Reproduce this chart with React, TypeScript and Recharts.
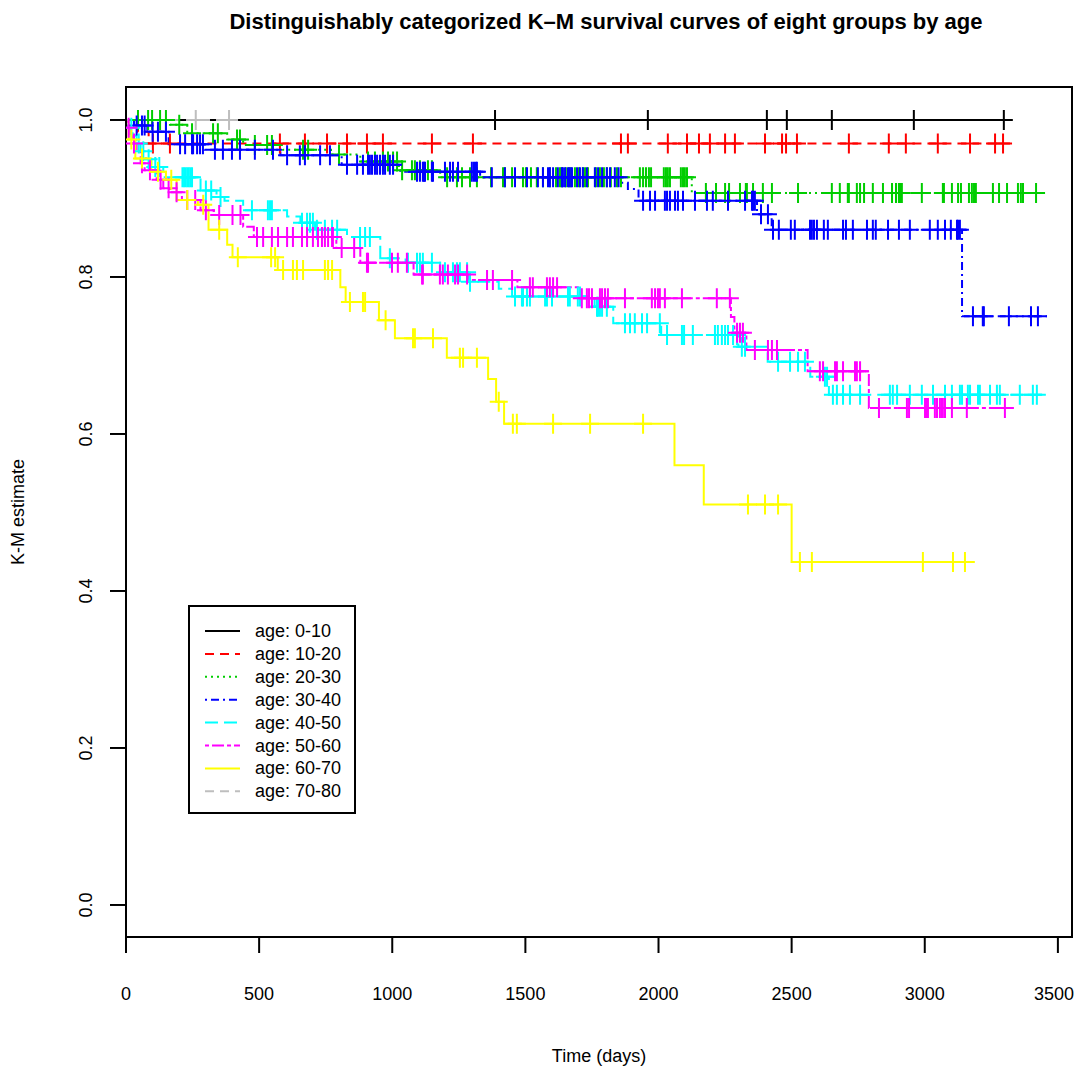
import React from 'react';
import {
  ComposedChart,
  Label,
  Legend,
  Line,
  ReferenceArea,
  Scatter,
  XAxis,
  YAxis,
} from 'recharts';

const FONT = '"Liberation Sans", Arial, Helvetica, sans-serif';

// axis ticks
const xTicks = [0, 500, 1000, 1500, 2000, 2500, 3000, 3500];
const yTicks = [0, 0.2, 0.4, 0.6, 0.8, 1.0];

// groups
const groupNames = [
  'age: 0-10',
  'age: 10-20',
  'age: 20-30',
  'age: 30-40',
  'age: 40-50',
  'age: 50-60',
  'age: 60-70',
  'age: 70-80',
];
const groupColors = ['#000000', '#FF0000', '#00CD00', '#0000FF', '#00FFFF', '#FF00FF', '#FFFF00', '#BEBEBE'];
const groupDashes = ['', '9 6', '2 4', '2 4 8 4', '13 6', '4 3 12 3', '', '9 6'];

// K-M steps: [time (days), survival], last time of follow-up, censoring times
const steps0 = [[0, 1]];
const end0 = 3320;
const censor0 = [1386, 1960, 2407, 2482, 2651, 2959, 3297];

const steps1 = [[0, 1], [45, 0.985], [85, 0.97]];
const end1 = 3320;
const censor1 = [101, 165, 578, 672, 755, 830, 905, 965, 1149, 1303, 1859, 1885, 2035, 2107, 2152, 2193, 2250, 2287, 2400, 2464, 2479, 2520, 2715, 2865, 2929, 3049, 3170, 3264, 3294];

const steps2 = [[0, 1], [165, 0.994], [230, 0.983], [380, 0.975], [440, 0.968], [590, 0.962], [770, 0.956], [880, 0.947], [1025, 0.936], [1180, 0.927], [2125, 0.907]];
const end2 = 3460;
const censor2 = [45, 83, 98, 128, 150, 200, 248, 327, 345, 417, 428, 484, 530, 548, 665, 684, 800, 909, 935, 965, 984, 1003, 1018, 1037, 1074, 1085, 1104, 1134, 1149, 1206, 1243, 1262, 1292, 1318, 1371, 1416, 1423, 1450, 1491, 1502, 1521, 1543, 1566, 1592, 1615, 1630, 1637, 1652, 1664, 1671, 1686, 1701, 1716, 1724, 1735, 1765, 1780, 1795, 1806, 1821, 1844, 1859, 1930, 1942, 1953, 1964, 1972, 2020, 2028, 2035, 2043, 2084, 2092, 2099, 2107, 2178, 2216, 2250, 2265, 2306, 2328, 2332, 2355, 2392, 2426, 2524, 2651, 2681, 2711, 2715, 2745, 2757, 2772, 2805, 2843, 2877, 2892, 2903, 2907, 2914, 2989, 3068, 3072, 3102, 3125, 3136, 3166, 3177, 3185, 3192, 3256, 3279, 3309, 3350, 3361, 3369, 3418];

const steps3 = [[0, 1], [30, 0.993], [80, 0.985], [160, 0.969], [295, 0.962], [580, 0.955], [810, 0.943], [1030, 0.934], [1330, 0.927], [1860, 0.92], [1885, 0.912], [1925, 0.897], [2370, 0.88], [2425, 0.86], [3140, 0.75]];
const end3 = 3459;
const censor3 = [40, 60, 70, 100, 120, 150, 203, 222, 248, 252, 267, 278, 289, 334, 364, 398, 428, 484, 552, 605, 653, 672, 729, 766, 830, 868, 890, 909, 916, 924, 935, 943, 954, 965, 973, 991, 1003, 1093, 1104, 1115, 1119, 1123, 1149, 1153, 1198, 1217, 1228, 1247, 1299, 1307, 1314, 1318, 1374, 1423, 1461, 1506, 1547, 1566, 1585, 1592, 1604, 1622, 1637, 1641, 1649, 1660, 1667, 1675, 1694, 1705, 1716, 1731, 1761, 1773, 1788, 1806, 1818, 1836, 1850, 1942, 1968, 1987, 2024, 2032, 2043, 2062, 2073, 2092, 2137, 2182, 2204, 2261, 2325, 2351, 2355, 2362, 2385, 2411, 2430, 2452, 2497, 2512, 2569, 2576, 2584, 2595, 2621, 2636, 2693, 2704, 2730, 2783, 2805, 2816, 2862, 2903, 2944, 3019, 3049, 3076, 3098, 3121, 3125, 3132, 3181, 3218, 3222, 3316, 3399, 3425];

const steps4 = [[0, 1], [10, 0.99], [25, 0.98], [40, 0.97], [55, 0.96], [75, 0.95], [95, 0.94], [140, 0.927], [280, 0.91], [340, 0.902], [370, 0.897], [440, 0.885], [605, 0.877], [655, 0.869], [710, 0.86], [830, 0.851], [955, 0.824], [1050, 0.818], [1180, 0.806], [1285, 0.794], [1400, 0.785], [1450, 0.775], [1760, 0.762], [1830, 0.741], [2010, 0.726], [2300, 0.711], [2410, 0.692], [2570, 0.673], [2640, 0.65]];
const end4 = 3459;
const censor4 = [20, 48, 65, 85, 110, 125, 212, 218, 224, 230, 236, 242, 248, 300, 320, 355, 473, 533, 541, 548, 661, 680, 691, 702, 717, 747, 774, 793, 879, 898, 916, 991, 1059, 1093, 1104, 1115, 1149, 1198, 1228, 1243, 1254, 1281, 1292, 1461, 1487, 1491, 1506, 1517, 1574, 1581, 1600, 1660, 1667, 1697, 1705, 1769, 1773, 1780, 1788, 1806, 1874, 1893, 1911, 1938, 1957, 2005, 2032, 2088, 2096, 2129, 2212, 2223, 2238, 2250, 2261, 2280, 2295, 2313, 2325, 2449, 2494, 2524, 2550, 2625, 2633, 2655, 2670, 2693, 2719, 2757, 2869, 2880, 2896, 2944, 2989, 3031, 3076, 3102, 3132, 3140, 3162, 3170, 3200, 3207, 3245, 3271, 3282, 3357, 3406, 3421];

const steps5 = [[0, 1], [5, 0.99], [15, 0.98], [25, 0.97], [40, 0.96], [55, 0.945], [70, 0.936], [115, 0.924], [140, 0.913], [165, 0.908], [210, 0.898], [280, 0.885], [330, 0.879], [440, 0.864], [480, 0.851], [790, 0.837], [880, 0.818], [1080, 0.803], [1290, 0.796], [1470, 0.787], [1705, 0.773], [2272, 0.749], [2285, 0.729], [2330, 0.707], [2560, 0.68], [2790, 0.633]];
const end5 = 3331;
const censor5 = [10, 30, 60, 90, 130, 160, 190, 230, 260, 300, 350, 400, 430, 492, 515, 548, 571, 605, 627, 661, 680, 702, 721, 736, 747, 759, 774, 777, 810, 857, 905, 909, 999, 1021, 1055, 1112, 1115, 1179, 1190, 1209, 1236, 1247, 1281, 1356, 1378, 1450, 1517, 1528, 1581, 1592, 1604, 1619, 1712, 1731, 1739, 1750, 1780, 1788, 1799, 1810, 1874, 1975, 1987, 1998, 2005, 2024, 2088, 2219, 2268, 2295, 2306, 2317, 2362, 2411, 2426, 2445, 2606, 2618, 2663, 2670, 2693, 2738, 2745, 2757, 2828, 2933, 2941, 3001, 3008, 3012, 3038, 3046, 3057, 3064, 3068, 3076, 3102, 3158, 3301];

const steps6 = [[0, 1], [10, 0.975], [35, 0.951], [95, 0.934], [150, 0.924], [190, 0.898], [270, 0.892], [310, 0.86], [380, 0.841], [400, 0.825], [570, 0.809], [805, 0.787], [825, 0.768], [950, 0.745], [1010, 0.722], [1205, 0.697], [1360, 0.67], [1390, 0.641], [1420, 0.613], [2060, 0.56], [2170, 0.51], [2500, 0.437]];
const end6 = 3188;
const censor6 = [20, 60, 120, 170, 230, 290, 350, 420, 545, 560, 590, 627, 642, 665, 747, 759, 774, 841, 890, 898, 975, 1078, 1085, 1153, 1254, 1266, 1318, 1400, 1453, 1468, 1604, 1743, 1942, 2336, 2400, 2449, 2531, 2576, 2993, 3106, 3151];

const steps7 = [[0, 1]];
const end7 = 420;
const censor7 = [262, 387];

const allSteps = [steps0, steps1, steps2, steps3, steps4, steps5, steps6, steps7];
const allEnds = [end0, end1, end2, end3, end4, end5, end6, end7];
const allCensors = [censor0, censor1, censor2, censor3, censor4, censor5, censor6, censor7];

function levelAt(steps: number[][], t: number) {
  let s = steps[0][1];
  for (const [time, surv] of steps) {
    if (time <= t) s = surv;
  }
  return s;
}

const groups = groupNames.map((name, i) => {
  const steps = allSteps[i];
  const line = steps.map(([t, s]) => ({ t, s }));
  line.push({ t: allEnds[i], s: steps[steps.length - 1][1] });
  const marks = allCensors[i].map((t) => ({ t, s: levelAt(steps, t) }));
  return { name, color: groupColors[i], dash: groupDashes[i], line, marks };
});

const plusShape = (color: string) => (props: any) => {
  const { cx, cy } = props;
  if (cx == null || cy == null) return <g />;
  return (
    <path
      d={`M${cx - 9},${cy}H${cx + 9}M${cx},${cy - 10}V${cy + 10}`}
      stroke={color}
      strokeWidth={2}
      fill="none"
    />
  );
};

// keeps the last label ("3500") inside the picture, as R does
const XTick = (props: any) => {
  const { x, y, payload } = props;
  const cx = Math.min(x, 1054);
  return (
    <text x={cx} y={y} dy="0.71em" textAnchor="middle" fill="#000" fontSize={18} fontFamily={FONT}>
      {payload.value}
    </text>
  );
};

const YTick = (props: any) => {
  const { x, y, payload } = props;
  return (
    <text
      x={x}
      y={y}
      transform={`rotate(-90, ${x}, ${y})`}
      textAnchor="middle"
      fill="#000"
      fontSize={18}
      fontFamily={FONT}
    >
      {Number(payload.value).toFixed(1)}
    </text>
  );
};

const LegendBox = () => (
  <svg width={168} height={209}>
    <rect x={1} y={1} width={166} height={207} fill="#fff" stroke="#000" strokeWidth={2} />
    {groups.map((g, i) => {
      const y = 26 + i * 22.9;
      return (
        <g key={g.name}>
          <line x1={17} x2={52} y1={y} y2={y} stroke={g.color} strokeWidth={2} strokeDasharray={g.dash} />
          <text x={67} y={y + 6} fontSize={18} fontFamily={FONT} fill="#000">
            {g.name}
          </text>
        </g>
      );
    })}
  </svg>
);

export default function App() {
  return (
    <div style={{ position: 'absolute', left: 0, top: 0, width: 1076, height: 1069, background: '#fff' }}>
      <div
        style={{
          position: 'absolute',
          left: 0,
          width: 1212,
          top: 11,
          textAlign: 'center',
          fontFamily: FONT,
          fontWeight: 'bold',
          fontSize: 22,
          lineHeight: 1,
          color: '#000',
        }}
      >
        Distinguishably categorized K–M survival curves of eight groups by age
      </div>
      <ComposedChart width={1076} height={1069} margin={{ top: 87, right: 4, bottom: 0, left: 0 }}>
        <XAxis
          type="number"
          dataKey="t"
          domain={[0, 3553]}
          ticks={xTicks}
          interval={0}
          allowDataOverflow
          height={132}
          axisLine={{ stroke: '#000', strokeWidth: 2 }}
          tickLine={{ stroke: '#000', strokeWidth: 2 }}
          tickSize={16}
          tickMargin={34}
          tick={<XTick />}
        >
          <Label
            value="Time (days)"
            position="insideBottom"
            offset={7}
            style={{ fill: '#000', fontSize: 18, fontFamily: FONT }}
          />
        </XAxis>
        <YAxis
          type="number"
          dataKey="s"
          domain={[-0.0408, 1.042]}
          ticks={yTicks}
          interval={0}
          allowDataOverflow
          width={126}
          axisLine={{ stroke: '#000', strokeWidth: 2 }}
          tickLine={{ stroke: '#000', strokeWidth: 2 }}
          tickSize={16}
          tickMargin={18}
          tick={<YTick />}
        >
          <Label
            content={(p: any) => {
              const vb = p.viewBox;
              const x = 24;
              const y = vb.y + vb.height / 2;
              return (
                <text
                  x={x}
                  y={y}
                  transform={`rotate(-90, ${x}, ${y})`}
                  textAnchor="middle"
                  fill="#000"
                  fontSize={18}
                  fontFamily={FONT}
                >
                  K-M estimate
                </text>
              );
            }}
          />
        </YAxis>
        <ReferenceArea
          x1={0}
          x2={3553}
          y1={-0.0408}
          y2={1.042}
          fill="none"
          stroke="#000"
          strokeWidth={2}
        />
        {groups.map((g) => (
          <Line
            key={`line-${g.name}`}
            data={g.line}
            dataKey="s"
            type="stepAfter"
            stroke={g.color}
            strokeWidth={2}
            strokeDasharray={g.dash}
            dot={false}
            activeDot={false}
            isAnimationActive={false}
          />
        ))}
        {groups.map((g) => (
          <Scatter
            key={`marks-${g.name}`}
            data={g.marks}
            dataKey="s"
            shape={plusShape(g.color)}
            isAnimationActive={false}
          />
        ))}
        <Legend
          layout="vertical"
          align="center"
          verticalAlign="middle"
          wrapperStyle={{ left: 188, top: 605, width: 168, height: 209 }}
          content={() => <LegendBox />}
        />
      </ComposedChart>
    </div>
  );
}
